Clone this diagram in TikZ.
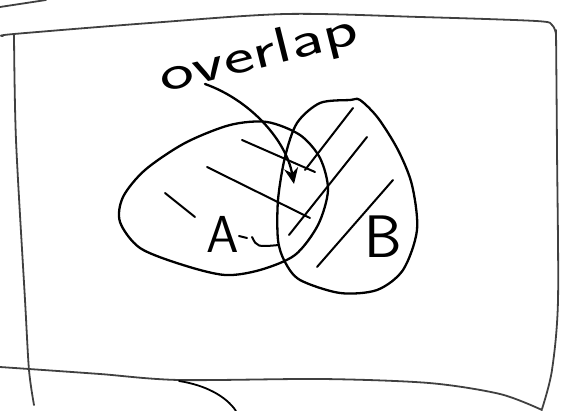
\documentclass[tikz,border=0pt]{standalone}
\usepackage{fontspec}
\usetikzlibrary{arrows.meta}

\begin{document}
\begin{tikzpicture}[x=1pt, y=-1pt, line cap=round, line join=round,
    frame/.style={line width=1.8pt, black!75},
    venn/.style={line width=2.3pt},
    hatch/.style={line width=2pt},
    every node/.style={font=\sffamily, inner sep=0pt}]
  \useasboundingbox (0,0) rectangle (561,411);

  % page frame
  \draw[frame] plot[smooth] coordinates {(3,36) (14,34) (150,23) (286,14) (420,17) (536,21) (552,25) (556,34)};
  \draw[frame] plot[smooth] coordinates {(556,30) (557,150) (558,300) (552,370) (542,409)};
  \draw[frame] plot[smooth] coordinates {(0,367) (29,369) (100,374) (179,380) (322,379) (429,383) (500,394) (542,410)};
  \draw[frame] plot[smooth] coordinates {(14,34) (16,140) (25,300) (29,370) (34,405)};
  \draw[frame] (0,7) -- (46,0);
  \draw[line width=1.8pt] (179,381) .. controls (205,385) and (226,396) .. (236,411);

  % sets
  \draw[venn] plot[smooth cycle] coordinates {(267,122) (300,135) (320,158) (328,190) (318,225) (295,255) (260,270) (225,275) (183,265) (140,248) (120,222) (123,197) (145,170) (185,143) (230,125)};
  \draw[venn] plot[smooth cycle] coordinates {(350,100) (320,103) (297,123) (285,157) (278,200) (278,240) (285,262) (300,280) (340,293) (377,290) (403,270) (417,230) (412,185) (398,150) (378,118) (360,100)};

  % hatching
  \foreach \a/\b in {{(165,193)}/{(195,217)}, {(207,167)}/{(310,218)}, {(242,140)}/{(315,172)},
                     {(353,108)}/{(305,170)}, {(367,137)}/{(289,235)}, {(393,180)}/{(317,267)}}
    \draw[hatch] \a -- \b;

  \node (lblA) at (223,234) {\fontsize{52}{52}\selectfont A};
  \node (lblB) at (383,237) {\fontsize{60}{60}\selectfont B};
  \draw[hatch] (239,236) -- (247,238);
  \draw[hatch] (252,237) .. controls (257,247) .. (279,245);

  \node[rotate=14, anchor=base] (ovtext) at (262,68)
    {\fontsize{50}{50}\selectfont\scalebox{1.45}[1]{overlap}};
  \coordinate (arrstart) at (205,84);
  \coordinate (ovl) at (294,184);
  \draw[venn, -{Stealth[length=16pt, width=14pt]}] (arrstart) .. controls (250,100) and (286,140) .. (ovl);
\end{tikzpicture}
\end{document}
